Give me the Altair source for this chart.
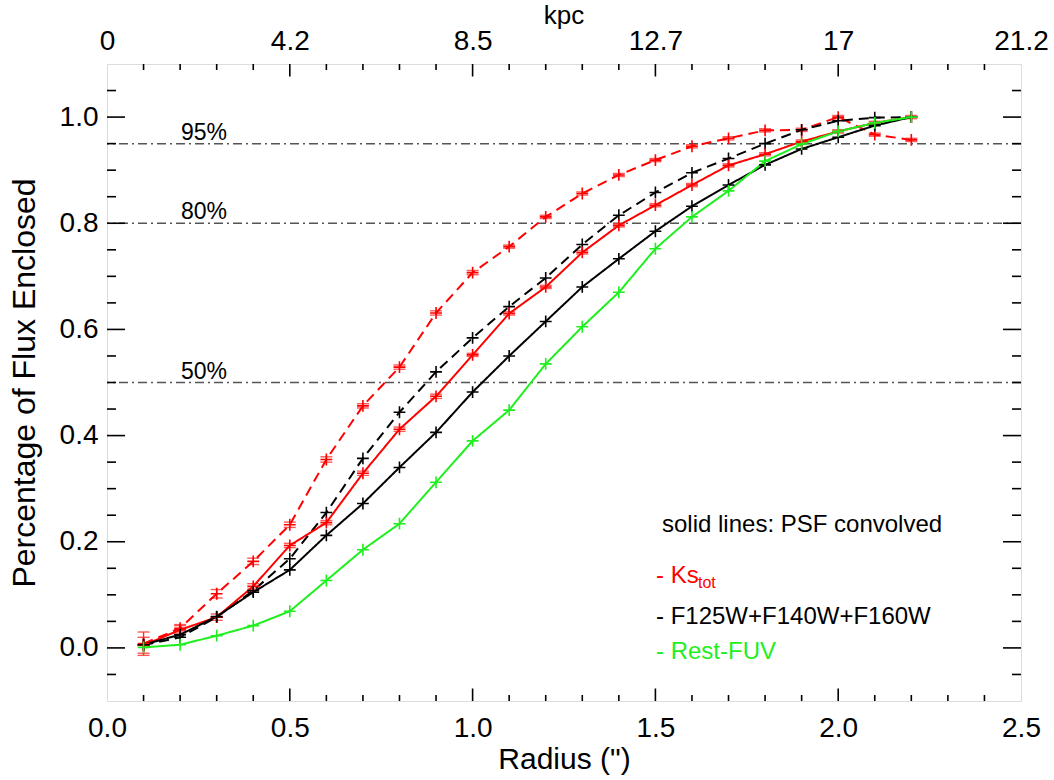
import altair as alt
import pandas as pd

# ---------------- data ----------------
radius = [0.1, 0.2, 0.3, 0.4, 0.5, 0.6, 0.7, 0.8, 0.9, 1.0, 1.1,
          1.2, 1.3, 1.4, 1.5, 1.6, 1.7, 1.8, 1.9, 2.0, 2.1, 2.2]

ks_raw = [0.008, 0.037, 0.102, 0.163, 0.232, 0.355, 0.456, 0.529, 0.631, 0.707, 0.756,
          0.812, 0.856, 0.891, 0.919, 0.945, 0.960, 0.975, 0.976, 1.000, 0.967, 0.957]
ks_raw_err = [0.022, 0.007, 0.008, 0.006, 0.005, 0.005, 0.004, 0.004, 0.004, 0.004, 0.003,
              0.003, 0.003, 0.003, 0.003, 0.003, 0.003, 0.003, 0.003, 0.003, 0.003, 0.003]
hst_raw = [0.005, 0.020, 0.058, 0.108, 0.168, 0.255, 0.357, 0.444, 0.520, 0.584, 0.643,
           0.697, 0.760, 0.815, 0.858, 0.895, 0.922, 0.950, 0.976, 0.993, 0.999, 1.000]
ks_conv = [0.005, 0.034, 0.058, 0.116, 0.193, 0.236, 0.329, 0.412, 0.474, 0.552, 0.630,
           0.680, 0.745, 0.796, 0.834, 0.872, 0.909, 0.930, 0.954, 0.973, 0.989, 1.000]
ks_conv_err = [0.015, 0.008, 0.006, 0.005, 0.004, 0.004, 0.004, 0.004, 0.004, 0.003, 0.003,
               0.003, 0.003, 0.003, 0.003, 0.003, 0.003, 0.003, 0.003, 0.003, 0.003, 0.003]
hst_conv = [0.006, 0.025, 0.059, 0.105, 0.147, 0.212, 0.272, 0.340, 0.406, 0.482, 0.550,
            0.615, 0.680, 0.733, 0.785, 0.832, 0.872, 0.910, 0.940, 0.962, 0.984, 1.000]
fuv_conv = [0.001, 0.006, 0.023, 0.042, 0.069, 0.127, 0.185, 0.234, 0.312, 0.390, 0.448,
            0.535, 0.605, 0.670, 0.752, 0.812, 0.861, 0.917, 0.949, 0.973, 0.989, 1.000]

series_names = ["1 Ks raw", "2 HST raw", "3 Ks conv", "4 HST conv", "5 FUV conv"]
series_values = [ks_raw, hst_raw, ks_conv, hst_conv, fuv_conv]
series_colors = ["#ff0000", "#000000", "#ff0000", "#000000", "#1fef1f"]
series_dash = [[10, 6], [10, 6], [1, 0], [1, 0], [1, 0]]

levels = [0.5, 0.8, 0.95]
level_labels = ["50%", "80%", "95%"]

x_label_values = [0.0, 0.5, 1.0, 1.5, 2.0, 2.5]
kpc_labels = ["0", "4.2", "8.5", "12.7", "17", "21.2"]
y_label_values = [0.0, 0.2, 0.4, 0.6, 0.8, 1.0]
x_major = [0.5, 1.0, 1.5, 2.0]
x_minor = [0.1, 0.2, 0.3, 0.4, 0.6, 0.7, 0.8, 0.9, 1.1, 1.2, 1.3, 1.4,
           1.6, 1.7, 1.8, 1.9, 2.1, 2.2, 2.3, 2.4]
y_major = [0.0, 0.2, 0.4, 0.6, 0.8, 1.0]
y_minor = [-0.05, 0.05, 0.1, 0.15, 0.25, 0.3, 0.35, 0.45, 0.5, 0.55, 0.65,
           0.7, 0.75, 0.85, 0.9, 0.95, 1.05]

# ---------------- tables ----------------
rows = []
for name, vals in zip(series_names, series_values):
    for r, v in zip(radius, vals):
        rows.append({"r": r, "v": v, "s": name})
df = pd.DataFrame(rows)

err_rows = []
for name, vals, errs in [("1 Ks raw", ks_raw, ks_raw_err), ("3 Ks conv", ks_conv, ks_conv_err)]:
    for r, v, e in zip(radius, vals, errs):
        err_rows.append({"r": r, "lo": v - e, "hi": v + e, "s": name})
df_err = pd.DataFrame(err_rows)

df_lev = pd.DataFrame({"lv": levels, "lab": level_labels})

W, H = 914, 637
FONT = "Liberation Sans"
xs = alt.Scale(domain=[0, 2.5], nice=False, zero=False)
ys = alt.Scale(domain=[-0.1, 1.1], nice=False, zero=False)
cscale = alt.Scale(domain=series_names, range=series_colors)
dscale = alt.Scale(domain=series_names, range=series_dash)
PLUS = "M-1,0L1,0M0,-1L0,1"

bottom_axis = alt.Axis(values=x_label_values, format=".1f", ticks=False, domain=False, grid=False,
                       labelFlush=False, labelFontSize=28, labelFont=FONT, labelPadding=13,
                       labelColor="black",
                       title='Radius (")', titleFontSize=30, titleFont=FONT, titleFontWeight="normal",
                       titleColor="black", titlePadding=2)
expr_list = "[" + ",".join("'%s'" % s for s in kpc_labels) + "]"
top_axis = alt.Axis(orient="top", values=x_label_values, labelExpr=expr_list + "[round(datum.value*2)]",
                    ticks=False, domain=False, grid=False, labelFlush=False,
                    labelFontSize=28, labelFont=FONT, labelPadding=9, labelColor="black",
                    title=None)
left_axis = alt.Axis(values=y_label_values, format=".1f", ticks=False, domain=False, grid=False,
                     labelFlush=False, labelFontSize=28, labelFont=FONT, labelPadding=9,
                     labelColor="black",
                     title="Percentage of Flux Enclosed", titleFontSize=32, titleFont=FONT,
                     titleFontWeight="normal", titleColor="black", titlePadding=18)

lines = alt.Chart(df).mark_line(strokeWidth=2).encode(
    x=alt.X("r:Q", scale=xs, axis=bottom_axis),
    y=alt.Y("v:Q", scale=ys, axis=left_axis),
    color=alt.Color("s:N", scale=cscale, legend=None),
    strokeDash=alt.StrokeDash("s:N", scale=dscale, legend=None),
)
points = alt.Chart(df).mark_point(shape=PLUS, filled=False, size=140, strokeWidth=1.6, opacity=1).encode(
    x=alt.X("r:Q", scale=xs, axis=top_axis),
    y=alt.Y("v:Q", scale=ys, axis=None),
    color=alt.Color("s:N", scale=cscale, legend=None),
)
err_v = alt.Chart(df_err).mark_rule(strokeWidth=1.4, color="#ff3030").encode(
    x=alt.X("r:Q", scale=xs, axis=None),
    y=alt.Y("lo:Q", scale=ys, axis=None), y2="hi:Q",
)
err_lo = alt.Chart(df_err).mark_tick(orient="horizontal", size=12, thickness=1.4, color="#ff3030", opacity=0.8).encode(
    x=alt.X("r:Q", scale=xs, axis=None),
    y=alt.Y("lo:Q", scale=ys, axis=None),
)
err_hi = alt.Chart(df_err).mark_tick(orient="horizontal", size=12, thickness=1.4, color="#ff3030", opacity=0.8).encode(
    x=alt.X("r:Q", scale=xs, axis=None),
    y=alt.Y("hi:Q", scale=ys, axis=None),
)

ref = alt.Chart(df_lev).mark_rule(color="#555555", strokeWidth=1.5, strokeDash=[9, 4, 2, 4]).encode(
    y=alt.Y("lv:Q", scale=ys, axis=None)
)
ref_txt = alt.Chart(df_lev).mark_text(align="center", baseline="alphabetic", dy=-4, fontSize=23,
                                      font=FONT, color="black").encode(
    x=alt.value(97), y=alt.Y("lv:Q", scale=ys, axis=None), text="lab:N"
)


def tick_layer(vals, horiz, p0, p1):
    d = pd.DataFrame({"t": vals})
    if horiz:
        return alt.Chart(d).mark_rule(color="black", strokeWidth=1.6).encode(
            x=alt.X("t:Q", scale=xs, axis=None), y=alt.value(p0), y2=alt.value(p1))
    return alt.Chart(d).mark_rule(color="black", strokeWidth=1.6).encode(
        y=alt.Y("t:Q", scale=ys, axis=None), x=alt.value(p0), x2=alt.value(p1))


ticks = [
    tick_layer(x_major, True, H, H - 12.5), tick_layer(x_minor, True, H, H - 6),
    tick_layer(x_major, True, 0, 12.5), tick_layer(x_minor, True, 0, 6),
    tick_layer(y_major, False, 0, 18), tick_layer(y_minor, False, 0, 9),
    tick_layer(y_major, False, W, W - 18), tick_layer(y_minor, False, W, W - 9),
]


def label(text, x, y, color, size=24, align="left"):
    return alt.Chart(pd.DataFrame({"t": [text]})).mark_text(
        align=align, baseline="alphabetic", fontSize=size, font=FONT, color=color
    ).encode(x=alt.value(x), y=alt.value(y), text="t:N")


legend = [
    label("solid lines: PSF convolved", 555, 468, "black"),
    label("- Ks", 549, 519, "#ff0000"),
    label("tot", 591, 524, "#ff0000", 16),
    label("- F125W+F140W+F160W", 549, 560, "black"),
    label("- Rest-FUV", 549, 595, "#1fef1f"),
    label("kpc", W / 2, -40, "black", 26, "center"),
]

chart = alt.layer(
    ref, ref_txt, *ticks, err_v, err_lo, err_hi, lines, points, *legend
).resolve_axis(x="independent", y="independent").properties(
    width=W, height=H, autosize="none",
    padding={"left": 107, "top": 64, "right": 33, "bottom": 79},
).configure_view(stroke="black", strokeWidth=2).configure(background="white")

chart.save("out.html", embed_options={"renderer": "svg", "actions": False})
